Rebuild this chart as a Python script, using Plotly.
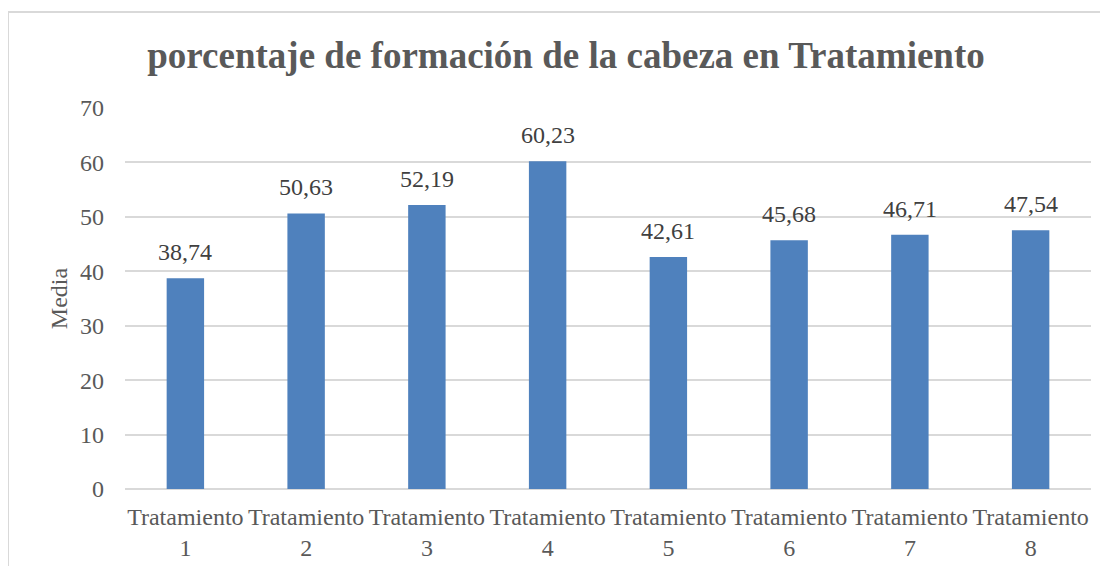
import plotly.graph_objects as go

categories = ["Tratamiento<br>1", "Tratamiento<br>2", "Tratamiento<br>3", "Tratamiento<br>4",
              "Tratamiento<br>5", "Tratamiento<br>6", "Tratamiento<br>7", "Tratamiento<br>8"]
values = [38.74, 50.63, 52.19, 60.23, 42.61, 45.68, 46.71, 47.54]
labels = ["38,74", "50,63", "52,19", "60,23", "42,61", "45,68", "46,71", "47,54"]

OFF = 8  # default page body margin
W, H = 1108 - OFF, 566 - OFF
L = 125 - OFF
T = 108 - OFF
R = 1108 - 1091
B = 566 - 489
pw, ph = W - L - R, H - T - B

fig = go.Figure(go.Bar(
    x=categories, y=values,
    marker=dict(color="#4f81bd", line=dict(width=0)),
    width=0.31, cliponaxis=False,
))

for c, v, t in zip(categories, values, labels):
    fig.add_annotation(x=c, y=v, text=t, showarrow=False, yanchor="middle", yshift=26,
                       font=dict(family="Liberation Serif", size=24, color="#404040"))

bx = (8 - 125) / pw
by = (489 - 12) / ph

fig.update_layout(
    width=W, height=H,
    margin=dict(l=L, r=R, t=T, b=B),
    paper_bgcolor="white", plot_bgcolor="white",
    font=dict(family="Liberation Serif", color="#595959"),
    title=dict(text="<b>porcentaje de formación de la cabeza en Tratamiento</b>",
               font=dict(family="Liberation Serif", size=37, color="#595959"),
               x=(566 - OFF) / W, xanchor="center", y=1 - (55 - OFF) / H, yanchor="middle"),
    showlegend=False,
    shapes=[
        dict(type="line", xref="paper", yref="paper", x0=bx, x1=1.2, y0=by, y1=by,
             line=dict(color="#d9d9d9", width=2)),
        dict(type="line", xref="paper", yref="paper", x0=bx, x1=bx, y0=by, y1=-0.3,
             line=dict(color="#d9d9d9", width=2)),
    ],
)
fig.update_xaxes(tickfont=dict(family="Liberation Serif", size=24, color="#595959"),
                 showgrid=False, showline=False, ticks="", tickangle=0, ticklabelstandoff=11,
                 automargin=False)
fig.update_yaxes(range=[0, 70], dtick=10, showgrid=True, gridcolor="#d9d9d9", gridwidth=1.5,
                 zeroline=True, zerolinecolor="#d9d9d9", zerolinewidth=1.5,
                 tickfont=dict(family="Liberation Serif", size=24, color="#595959"),
                 ticks="", ticklabelstandoff=20, automargin=False,
                 title=dict(text="Media", font=dict(family="Liberation Serif", size=24, color="#595959"),
                            standoff=5))

fig.write_html("out.html")
